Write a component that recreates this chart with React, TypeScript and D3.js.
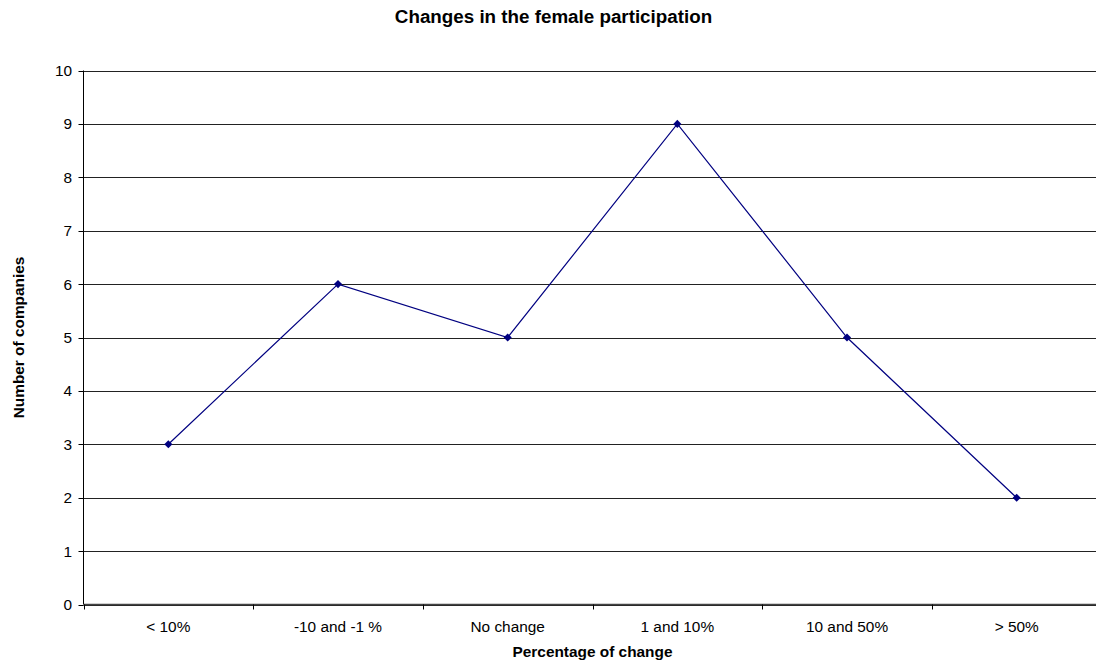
import React from "react";
import * as d3 from "d3";

const categories = ["< 10%", "-10 and -1 %", "No change", "1 and 10%", "10 and 50%", "> 50%"];
const companies = [3, 6, 5, 9, 5, 2];
const yTicks = [0, 1, 2, 3, 4, 5, 6, 7, 8, 9, 10];

const W = 1096;
const H = 666;
const left = 83.5;
const top = 70.5;
const bottom = 604.5;
const right = 1101.5;

export default function App() {
  const x = d3.scaleBand<string>().domain(categories).range([left, right]);
  const y = d3.scaleLinear().domain([0, 10]).range([bottom, top]);
  const cx = (i: number) => x(categories[i])! + x.bandwidth() / 2;
  const line = d3
    .line<number>()
    .x((_, i) => cx(i))
    .y((d) => y(d));
  const diamond = d3.symbol().type(d3.symbolDiamond2).size(42)();
  const font = "Arial, 'Liberation Sans', sans-serif";
  const snap = (v: number) => Math.round(v) + 0.5;
  const fs = 15.4;

  return (
    <svg
      width={W}
      height={H}
      style={{ position: "absolute", top: 0, left: 0, background: "#fff" }}
      fontFamily={font}
    >
      <text x={553.5} y={23} textAnchor="middle" fontSize={18.8} fontWeight="bold">
        Changes in the female participation
      </text>
      {/* horizontal grid */}
      {yTicks.map((t) => (
        <line key={t} x1={left} x2={right} y1={snap(y(t))} y2={snap(y(t))} stroke="#222" strokeWidth={1} />
      ))}
      {/* y axis */}
      <line x1={left} x2={left} y1={top} y2={bottom} stroke="#000" />
      {yTicks.map((t) => (
        <g key={"yt" + t}>
          <line x1={left - 5} x2={left} y1={snap(y(t))} y2={snap(y(t))} stroke="#000" />
          <text x={left - 11.5} y={y(t) + 5.5} textAnchor="end" fontSize={fs}>
            {t}
          </text>
        </g>
      ))}
      {/* x axis */}
      <line x1={left} x2={right} y1={bottom} y2={bottom} stroke="#444" strokeWidth={1.5} />
      {categories.map((c, i) => (
        <g key={c}>
          <line x1={snap(x(c)!)} x2={snap(x(c)!)} y1={bottom} y2={bottom + 5} stroke="#000" />
          <text x={cx(i)} y={bottom + 27.5} textAnchor="middle" fontSize={fs}>
            {c}
          </text>
        </g>
      ))}
      <path d={line(companies) ?? ""} fill="none" stroke="#000080" strokeWidth={1.2} />
      {companies.map((v, i) => (
        <path key={i} d={diamond ?? ""} transform={`translate(${cx(i)},${y(v)})`} fill="#000080" />
      ))}
      <text x={(left + right) / 2} y={657} textAnchor="middle" fontSize={fs} fontWeight="bold">
        Percentage of change
      </text>
      <text
        transform={`translate(24,${(top + bottom) / 2}) rotate(-90)`}
        textAnchor="middle"
        fontSize={fs}
        fontWeight="bold"
      >
        Number of companies
      </text>
    </svg>
  );
}
